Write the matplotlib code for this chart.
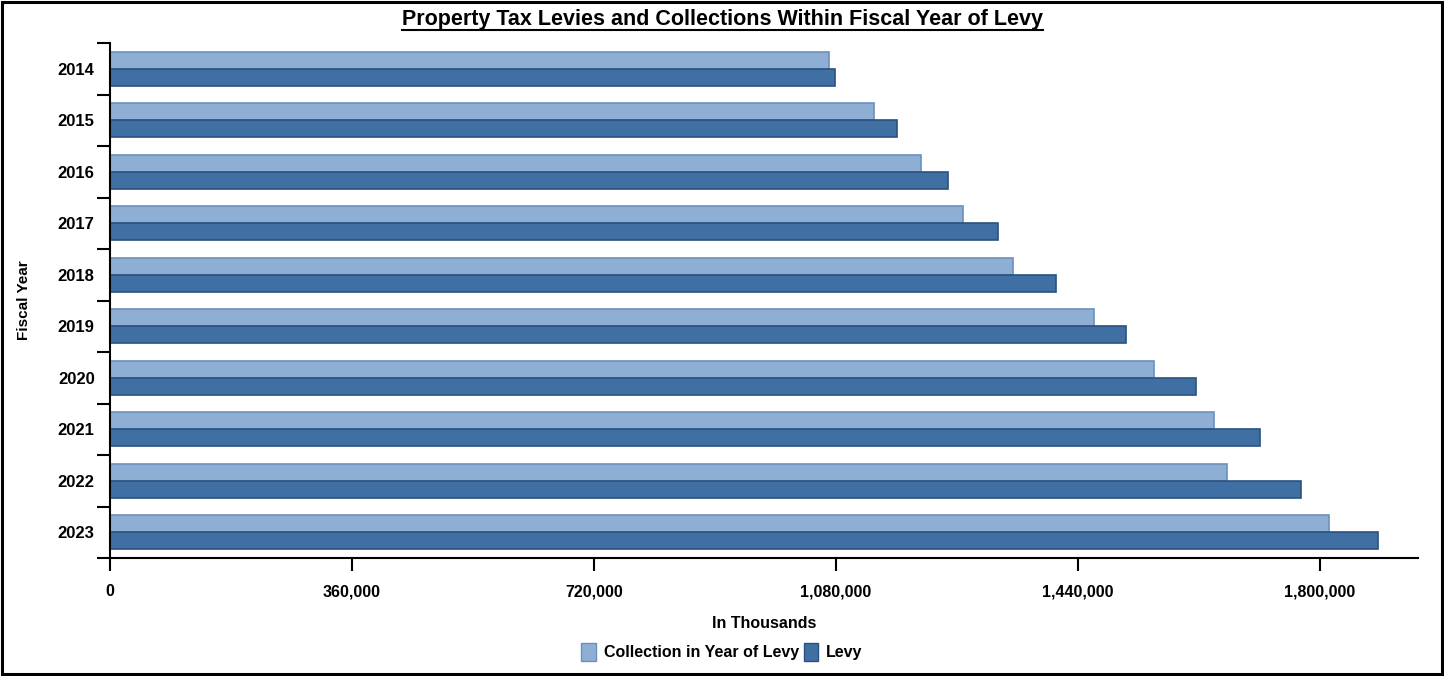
import matplotlib
matplotlib.use("Agg")
import matplotlib.pyplot as plt
import numpy as np
from matplotlib.lines import Line2D
from matplotlib.patches import Rectangle, Patch
from matplotlib.ticker import FuncFormatter, FixedLocator

plt.rcParams['font.family'] = ['Liberation Sans', 'DejaVu Sans']

years = ["2014", "2015", "2016", "2017", "2018", "2019", "2020", "2021", "2022", "2023"]
collection = [1069600, 1136500, 1206400, 1268900, 1343300, 1463800, 1553100, 1642300, 1661700, 1813400]
levy = [1078500, 1170700, 1246600, 1321000, 1407300, 1511400, 1615500, 1710700, 1771700, 1886300]
xticks = [0, 360000, 720000, 1080000, 1440000, 1800000]

title = "Property Tax Levies and Collections Within Fiscal Year of Levy"
series_names = ["Collection in Year of Levy", "Levy"]

c_light = "#8FAED3"
e_light = "#6C90BE"
c_dark = "#406FA4"
e_dark = "#2B527F"

W, H = 1444, 676
fig = plt.figure(figsize=(W / 100, H / 100), dpi=100)
ax = fig.add_axes([110 / W, 1 - 558 / H, (1418 - 110) / W, (558 - 43) / H])

y = np.arange(len(years))
bh = 0.33
ax.barh(y - bh / 2, collection, height=bh, color=c_light, edgecolor=e_light, linewidth=1.2)
ax.barh(y + bh / 2, levy, height=bh, color=c_dark, edgecolor=e_dark, linewidth=1.2)

ax.set_ylim(len(years) - 0.5, -0.5)
ax.set_xlim(0, 1945800)

ax.set_yticks(y)
ax.set_yticklabels(years, fontsize=12, fontweight='bold')
ax.yaxis.set_minor_locator(FixedLocator(np.arange(-0.5, len(years), 1.0)))
ax.tick_params(axis='y', which='major', length=0, pad=11)
ax.tick_params(axis='y', which='minor', length=9.5, width=1.5, color='black')

ax.set_xticks(xticks)
ax.xaxis.set_major_formatter(FuncFormatter(lambda v, p: f"{int(v):,}"))
ax.tick_params(axis='x', length=9, width=1.5, pad=10, labelsize=11.5)
for lbl in ax.get_xticklabels():
    lbl.set_fontweight('bold')

for s in ['top', 'right']:
    ax.spines[s].set_visible(False)
ax.spines['left'].set_linewidth(1.5)
ax.spines['bottom'].set_linewidth(1.5)

ax.set_xlabel("In Thousands", fontsize=11.5, fontweight='bold', labelpad=12)
ax.set_ylabel("Fiscal Year", fontsize=11, fontweight='bold', labelpad=19)

handles = [Patch(facecolor=c_light, edgecolor=e_light), Patch(facecolor=c_dark, edgecolor=e_dark)]
fig.legend(handles, series_names, loc='center', bbox_to_anchor=(0.5, 1 - 652 / H), ncol=2,
           frameon=False, prop={'size': 11.5, 'weight': 'bold'}, handlelength=0.9, handleheight=1.4,
           handletextpad=0.5, columnspacing=0.3)

t = fig.text(0.5, 1 - 20 / H, title, ha='center', va='center', fontsize=15.5, fontweight='bold')

# border
fig.add_artist(Rectangle((2 / W, 2 / H), 1 - 4 / W, 1 - 4 / H, transform=fig.transFigure,
                         fill=False, edgecolor='black', linewidth=2.2))

fig.canvas.draw()
bb = t.get_window_extent()
uy = bb.y0 + 1
fig.add_artist(Line2D([bb.x0 / W, bb.x1 / W], [uy / H, uy / H], transform=fig.transFigure,
                      color='black', linewidth=1.5))

fig.savefig("out.png", dpi=100)
